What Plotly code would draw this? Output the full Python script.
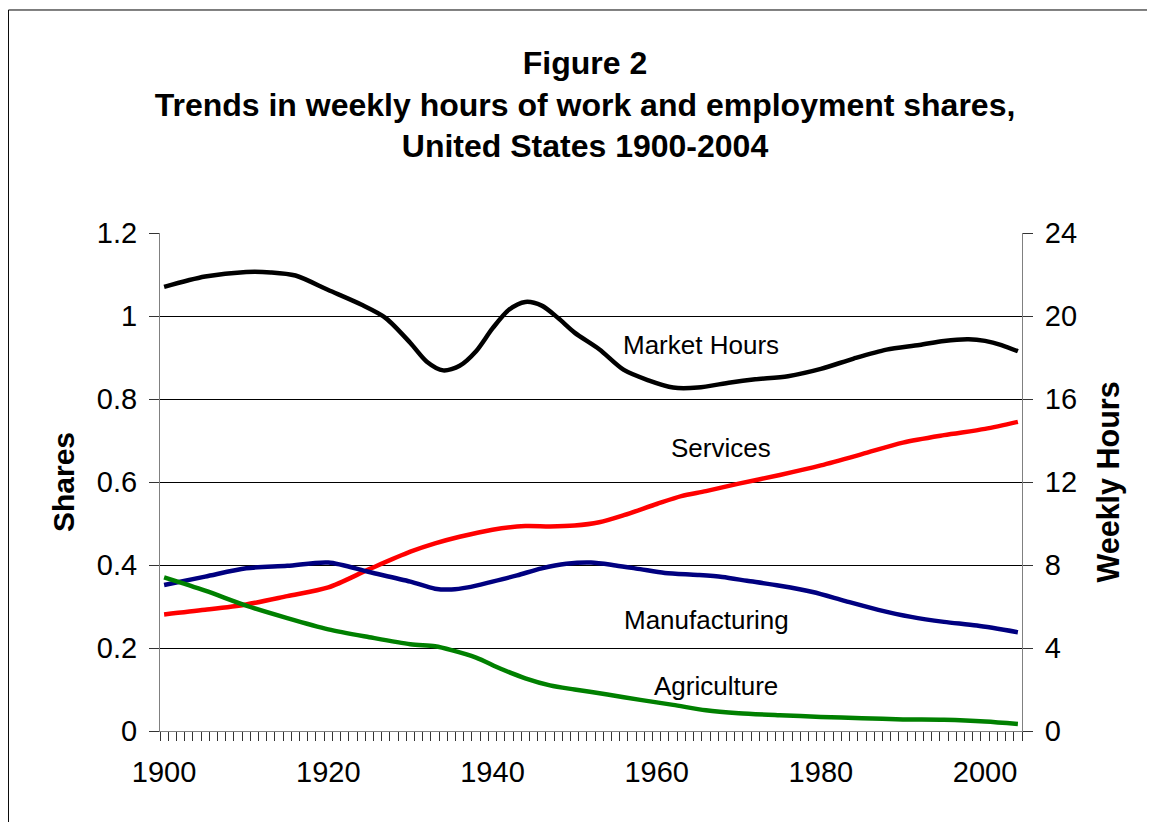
import plotly.graph_objects as go

# ---------------- data ----------------
hours_years = [1900, 1905, 1910, 1913, 1916, 1920, 1924, 1927, 1930, 1932, 1934, 1936, 1938, 1940,
               1942, 1944, 1946, 1948, 1950, 1953, 1956, 1959, 1962, 1965, 1969, 1972, 1976, 1980,
               1984, 1988, 1992, 1995, 1998, 2000, 2002, 2004]
market_hours = [21.4, 21.9, 22.12, 22.1, 21.95, 21.25, 20.55, 19.9, 18.7, 17.8, 17.38, 17.6, 18.3, 19.4,
                20.3, 20.68, 20.5, 19.9, 19.2, 18.4, 17.4, 16.9, 16.55, 16.55, 16.8, 16.95, 17.1, 17.45,
                17.95, 18.38, 18.6, 18.8, 18.88, 18.8, 18.6, 18.3]

manu_years = [1900, 1905, 1910, 1915, 1920, 1925, 1930, 1933, 1935, 1937, 1940, 1943, 1946, 1949,
              1952, 1955, 1958, 1961, 1965, 1968, 1971, 1975, 1979, 1983, 1987, 1991, 1995, 1999, 2004]
manufacturing = [0.352, 0.372, 0.392, 0.398, 0.406, 0.383, 0.36, 0.343, 0.341, 0.346, 0.36, 0.375, 0.392, 0.403,
                 0.406, 0.399, 0.39, 0.381, 0.376, 0.371, 0.362, 0.35, 0.335, 0.313, 0.292, 0.275, 0.263, 0.254, 0.238]

serv_years = [1900, 1905, 1910, 1915, 1920, 1925, 1930, 1933, 1936, 1940, 1944, 1947, 1950, 1953,
              1956, 1960, 1963, 1966, 1970, 1975, 1980, 1985, 1990, 1995, 2000, 2004]
services = [0.281, 0.292, 0.305, 0.325, 0.346, 0.39, 0.432, 0.452, 0.468, 0.485, 0.494, 0.493, 0.495, 0.503,
            0.52, 0.547, 0.566, 0.578, 0.596, 0.617, 0.64, 0.667, 0.695, 0.713, 0.728, 0.745]

agri_years = [1900, 1905, 1910, 1915, 1920, 1925, 1930, 1933, 1935, 1938, 1941, 1944, 1947, 1950,
              1954, 1958, 1962, 1966, 1970, 1975, 1980, 1985, 1990, 1995, 2000, 2004]
agriculture = [0.37, 0.338, 0.302, 0.272, 0.245, 0.226, 0.209, 0.204, 0.195, 0.177, 0.15, 0.127, 0.11, 0.1,
               0.088, 0.075, 0.063, 0.05, 0.043, 0.038, 0.034, 0.031, 0.028, 0.027, 0.023, 0.017]

x_tick_vals = [1900, 1920, 1940, 1960, 1980, 2000]
left_ticks = [0, 0.2, 0.4, 0.6, 0.8, 1, 1.2]
left_tick_text = ["0", "0.2", "0.4", "0.6", "0.8", "1", "1.2"]
right_ticks = [0, 4, 8, 12, 16, 20, 24]

title_lines = ["Figure 2",
               "Trends in weekly hours of work and employment shares,",
               "United States 1900-2004"]

# labels: (text, year, share)
labels = [("Market Hours", 1965.4, 0.930),
          ("Services", 1967.8, 0.682),
          ("Manufacturing", 1966.1, 0.267),
          ("Agriculture", 1967.2, 0.108)]

FONT = "Liberation Sans, Arial, sans-serif"
W, H = 1147, 814

fig = go.Figure()

fig.add_trace(go.Scatter(x=serv_years, y=services, mode="lines", name="Services",
                         line=dict(color="#FF0000", width=4.5, shape="spline", smoothing=0.8)))
fig.add_trace(go.Scatter(x=manu_years, y=manufacturing, mode="lines", name="Manufacturing",
                         line=dict(color="#000080", width=4.5, shape="spline", smoothing=0.8)))
fig.add_trace(go.Scatter(x=agri_years, y=agriculture, mode="lines", name="Agriculture",
                         line=dict(color="#008000", width=4.5, shape="spline", smoothing=0.8)))
fig.add_trace(go.Scatter(x=hours_years, y=market_hours, mode="lines", name="Market Hours",
                         yaxis="y2",
                         line=dict(color="#000000", width=4.5, shape="spline", smoothing=0.8)))

for text, xv, yv in labels:
    fig.add_annotation(x=xv, y=yv, xref="x", yref="y", text=text, showarrow=False,
                       xanchor="center", yanchor="middle",
                       font=dict(family=FONT, size=26, color="#000000"))

# axis titles as annotations
fig.add_annotation(x=-0.1125, y=0.5, xref="paper", yref="paper", text="Shares", textangle=-90,
                   xanchor="center", yanchor="middle",
                   showarrow=False, font=dict(family=FONT, size=30, color="#000", weight="bold"))
fig.add_annotation(x=1.0992, y=0.5, xref="paper", yref="paper", text="Weekly Hours", textangle=-90,
                   xanchor="center", yanchor="middle",
                   showarrow=False, font=dict(family=FONT, size=30.5, color="#000", weight="bold"))

# outer border
fig.add_shape(type="rect", xref="paper", yref="paper", x0=-0.1758, x1=1.2, y0=-0.25, y1=1.4478,
              line=dict(color="#000000", width=1), fillcolor="rgba(0,0,0,0)", layer="below")

fig.update_layout(
    width=W, height=H,
    margin=dict(l=152, r=133, t=225, b=91),
    paper_bgcolor="white", plot_bgcolor="white",
    showlegend=False,
    font=dict(family=FONT, color="#000000"),
    title=dict(text="<br>".join(title_lines), x=577 / W, xanchor="center", y=1 - 66 / H, yanchor="top",
               font=dict(family=FONT, size=32, color="#000", weight="bold")),
    xaxis=dict(range=[1899.5, 2004.5], tickvals=x_tick_vals, ticks="outside", ticklen=9,
               tickcolor="rgba(0,0,0,0)", showgrid=False, zeroline=False,
               showline=True, linecolor="#808080", linewidth=1,
               tickfont=dict(family=FONT, size=29, color="#000"), ticklabelstandoff=6,
               minor=dict(ticks="outside", ticklen=9, tick0=1899.5, dtick=1, tickcolor="#333",
                          tickwidth=1, showgrid=False)),
    yaxis=dict(range=[0, 1.2], tickvals=left_ticks, ticktext=left_tick_text, ticks="outside", ticklen=10,
               tickcolor="#333", showgrid=True, gridcolor="#000000", gridwidth=1, zeroline=False,
               showline=True, linecolor="#808080", linewidth=1, ticklabelstandoff=6,
               tickfont=dict(family=FONT, size=29, color="#000")),
    yaxis2=dict(range=[0, 24], tickvals=right_ticks, overlaying="y", side="right", ticks="outside",
                ticklen=10, tickcolor="#333", showgrid=False, zeroline=False,
                showline=True, linecolor="#808080", linewidth=1, ticklabelstandoff=6,
                tickfont=dict(family=FONT, size=29, color="#000")),
)

fig.write_html("out.html")
